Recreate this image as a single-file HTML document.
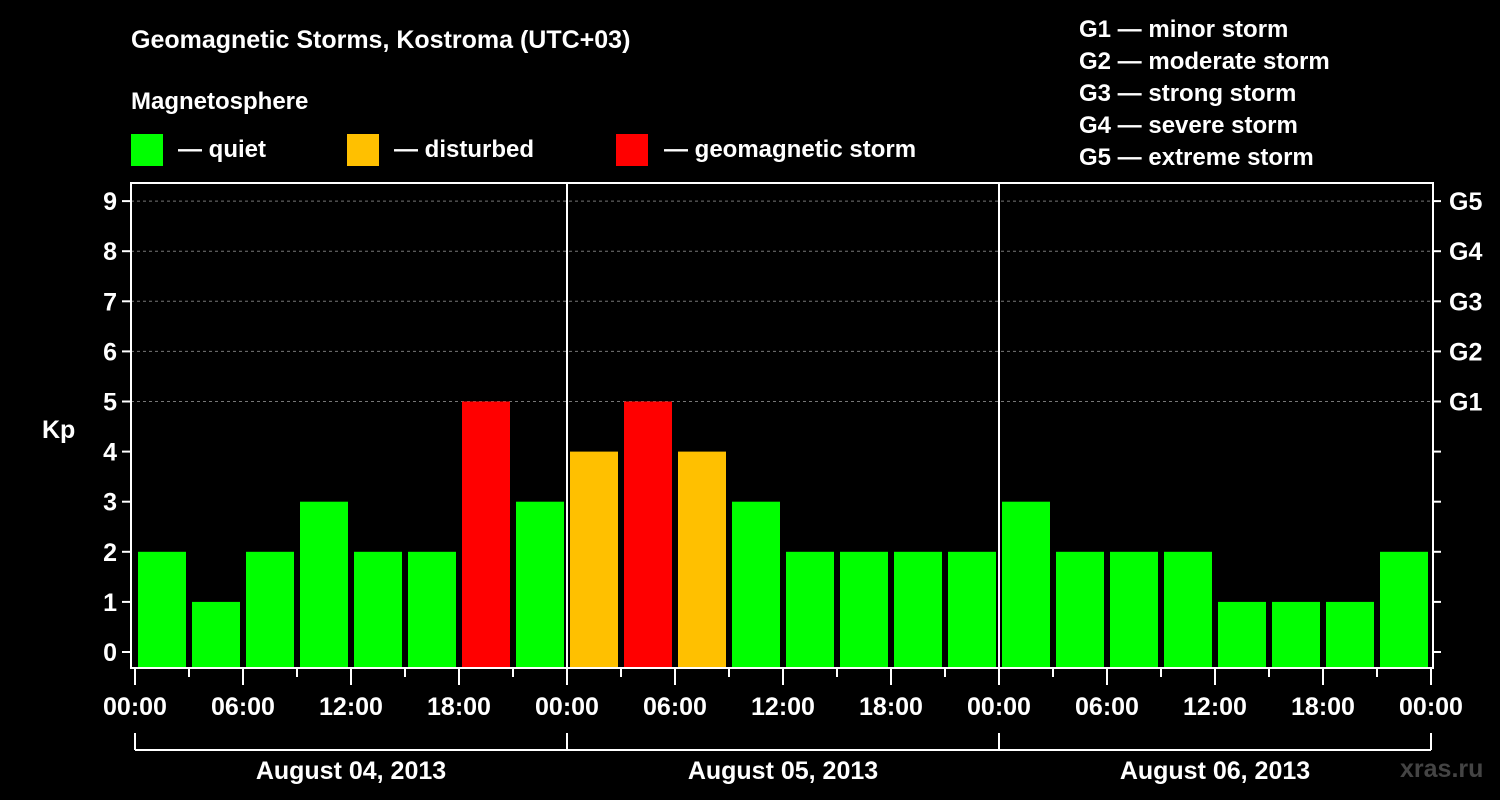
<!DOCTYPE html>
<html><head><meta charset="utf-8"><style>
html,body{margin:0;padding:0;background:#000;}
svg{display:block;font-family:"Liberation Sans",Arial,sans-serif;font-weight:bold;}
</style></head><body>
<svg id="chart" width="1500" height="800">
<text x="131" y="48" fill="#fff" font-size="25">Geomagnetic Storms, Kostroma (UTC+03)</text>
<text x="131" y="109" fill="#fff" font-size="24">Magnetosphere</text>
<g><rect x="131" y="134" width="32" height="32" fill="#00ff00"/><text x="178" y="157" fill="#fff" font-size="24">— quiet</text></g>
<g><rect x="347" y="134" width="32" height="32" fill="#ffc000"/><text x="394" y="157" fill="#fff" font-size="24">— disturbed</text></g>
<g><rect x="616" y="134" width="32" height="32" fill="#ff0000"/><text x="664" y="157" fill="#fff" font-size="24">— geomagnetic storm</text></g>
<g fill="#fff" font-size="24">
<text x="1079" y="37">G1 — minor storm</text>
<text x="1079" y="69">G2 — moderate storm</text>
<text x="1079" y="101">G3 — strong storm</text>
<text x="1079" y="133">G4 — severe storm</text>
<text x="1079" y="165">G5 — extreme storm</text>
</g>
<text x="42" y="438" fill="#fff" font-size="25">Kp</text>
<text x="1400" y="777" fill="#444" font-size="25">xras.ru</text>
<g id="plot"></g>
</svg>
<script>
const kpValues=[2,1,2,3,2,2,5,3,4,5,4,3,2,2,2,2,3,2,2,2,1,1,1,2];
const yTicks=[0,1,2,3,4,5,6,7,8,9];
const gLabels=["G1","G2","G3","G4","G5"];
const xTickLabels=["00:00","06:00","12:00","18:00"];
const dayLabels=["August 04, 2013","August 05, 2013","August 06, 2013"];
const NS="http://www.w3.org/2000/svg";
const g=document.getElementById("plot");
const L=131,R=1433,T=183,B=668,x0=135,barW=54;
const y=v=>652-v*50.1;
const x=i=>x0+i*barW;
const col=v=>v>=5?"#ff0000":(v>=4?"#ffc000":"#00ff00");
function mk(tag,attrs,txt){const e=document.createElementNS(NS,tag);for(const k in attrs)e.setAttribute(k,attrs[k]);if(txt!==undefined)e.textContent=txt;g.appendChild(e);return e;}
// grid
yTicks.forEach(v=>{if(v>=5){const e=mk("line",{x1:L,x2:R,y1:y(v),y2:y(v),stroke:"#777","stroke-dasharray":"3,3"});

}});
// bars
kpValues.forEach((v,i)=>{const e=mk("rect",{x:x(i)+3,y:y(v),width:barW-6,height:B-y(v),fill:col(v)});

});
// day separators
[1,2].forEach(d=>{const e=mk("line",{x1:x(d*8),x2:x(d*8),y1:T,y2:B,stroke:"#fff","stroke-width":2});

});
// frame
const fr=mk("rect",{x:L,y:T,width:R-L,height:B-T,fill:"none",stroke:"#fff","stroke-width":2});


// y ticks
yTicks.forEach(v=>{mk("line",{x1:L-9,x2:L,y1:y(v),y2:y(v),stroke:"#fff","stroke-width":2});
mk("line",{x1:R,x2:R+8,y1:y(v),y2:y(v),stroke:"#fff","stroke-width":2});
const t=mk("text",{x:L-14,y:y(v)+9,fill:"#fff","font-size":25,"text-anchor":"end"},v);

});
gLabels.forEach((s,i)=>{const t=mk("text",{x:1449,y:y(5+i)+9,fill:"#fff","font-size":25},s);

});
// x ticks
for(let i=0;i<=24;i++){const major=i%2===0;mk("line",{x1:x(i),x2:x(i),y1:B,y2:B+(major?17:9),stroke:"#fff","stroke-width":2});
if(major){const t=mk("text",{x:x(i),y:715,fill:"#fff","font-size":25,"text-anchor":"middle"},xTickLabels[(i/2)%4]);

}}
// day brackets
mk("line",{x1:x(0),x2:x(24),y1:750,y2:750,stroke:"#fff","stroke-width":2});
for(let d=0;d<=3;d++)mk("line",{x1:x(d*8),x2:x(d*8),y1:733,y2:750,stroke:"#fff","stroke-width":2});
dayLabels.forEach((s,d)=>{const t=mk("text",{x:x(d*8+4),y:779,fill:"#fff","font-size":25,"text-anchor":"middle"},s);

});
</script>
</body></html>
